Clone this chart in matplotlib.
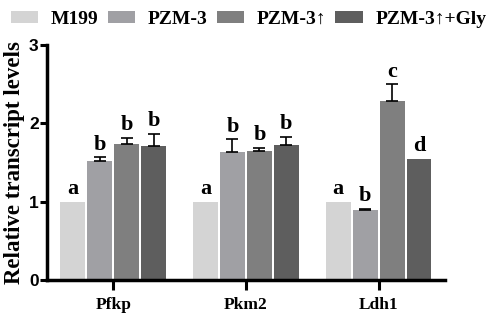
import matplotlib.pyplot as plt
import numpy as np

genes = ['Pfkp', 'Pkm2', 'Ldh1']
groups = ['M199', 'PZM-3', 'PZM-3\u2191', 'PZM-3\u2191+Gly']
colors = ['#d4d4d4', '#a0a0a4', '#7f7f7f', '#5e5e5e']

# mean values per group (rows) for each gene (columns)
m199 = [1.0, 1.0, 1.0]
pzm3 = [1.52, 1.64, 0.89]
pzm3_up = [1.74, 1.65, 2.29]
pzm3_gly = [1.71, 1.73, 1.55]
means = [m199, pzm3, pzm3_up, pzm3_gly]

# upper error (SEM)
err_m199 = [0.0, 0.0, 0.0]
err_pzm3 = [0.05, 0.16, 0.02]
err_pzm3_up = [0.08, 0.04, 0.21]
err_pzm3_gly = [0.16, 0.10, 0.0]
errs = [err_m199, err_pzm3, err_pzm3_up, err_pzm3_gly]

letters = [['a', 'a', 'a'],
           ['b', 'b', 'b'],
           ['b', 'b', 'c'],
           ['b', 'b', 'd']]

serif = ['Liberation Serif', 'DejaVu Serif']

fig = plt.figure(figsize=(4.98, 3.14), dpi=100)
ax = fig.add_axes([0.0944, 0.1083, 0.799, 0.748])

x = np.arange(len(genes))
step = 0.203
width = 0.188
for i in range(4):
    xs = x + (i - 1.5) * step
    ax.bar(xs, means[i], width, color=colors[i], label=groups[i], zorder=2)
    e = np.array(errs[i])
    m = np.array(means[i])
    has = e > 0
    if has.any():
        ax.errorbar(xs[has], m[has], yerr=[np.zeros(has.sum()), e[has]],
                    fmt='none', ecolor='black', elinewidth=1.2, capsize=4,
                    capthick=1.2, zorder=3)
    for j in range(len(genes)):
        ax.text(xs[j], m[j] + e[j] + 0.03, letters[i][j], ha='center',
                va='bottom', fontsize=16, fontweight='bold', family=serif)

ax.set_xlim(-0.5, 2.5)
ax.set_ylim(0, 3)
ax.set_yticks([0, 1, 2, 3])
ax.set_xticks(x)
ax.set_xticklabels(genes, fontsize=12.5, fontweight='bold', family=serif)
for t in ax.get_yticklabels():
    t.set_fontsize(12.5)
    t.set_fontweight('bold')
    t.set_family('Liberation Sans')
ax.tick_params(axis='both', width=2.2, length=5, pad=1)
ax.tick_params(axis='x', length=7, pad=5)
for s in ['top', 'right']:
    ax.spines[s].set_visible(False)
for s in ['left', 'bottom']:
    ax.spines[s].set_linewidth(2.5)
ax.set_ylabel('Relative transcript levels', fontsize=16.5, fontweight='bold',
              family=serif, labelpad=3)

fig.legend(loc='upper left', bbox_to_anchor=(0.0, 1.0), ncol=4, frameon=False,
           prop={'family': serif, 'weight': 'bold', 'size': 14},
           handlelength=1.4, handleheight=0.6, columnspacing=0.46,
           handletextpad=0.67, borderaxespad=0.15)

fig.savefig('out.png', dpi=100)
